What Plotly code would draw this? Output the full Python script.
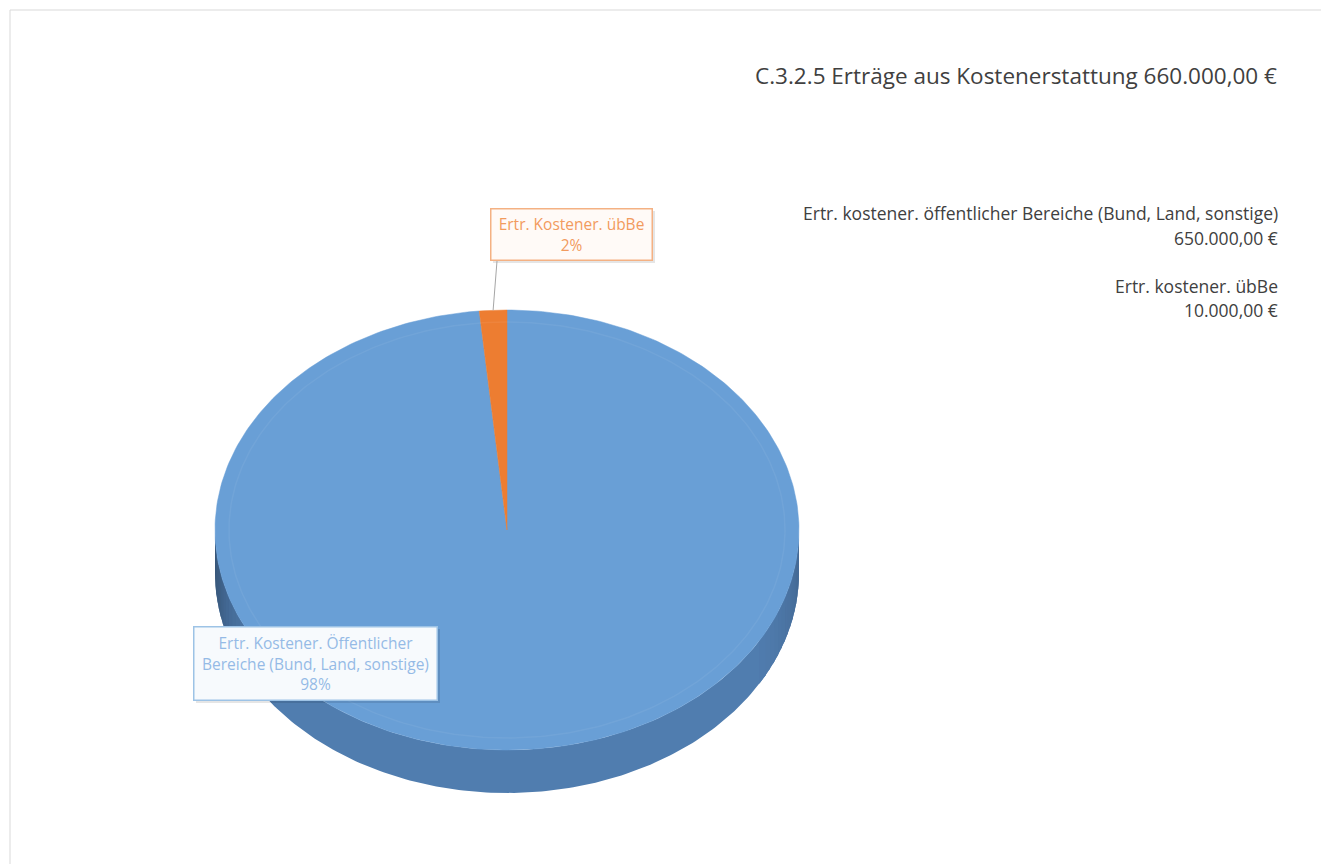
import numpy as np
import plotly.graph_objects as go

# ---------------- data ----------------
title_text = "C.3.2.5 Erträge aus Kostenerstattung"
categories = ["Ertr. kostener. öffentlicher Bereiche (Bund, Land, sonstige)",
              "Ertr. kostener. übBe"]
label_names = ["Ertr. Kostener. Öffentlicher<br>Bereiche (Bund, Land, sonstige)",
               "Ertr. Kostener. übBe"]
values = [650000, 10000]
top_colors = ["#699fd6", "#ed7d31"]
side_colors = ["#5888bf", "#c4621f"]
label_text_colors = ["#95bae6", "#f29b5e"]
label_border_colors = ["#9dc3e6", "#f4b183"]
label_bg_colors = ["#f7fafd", "#fffaf7"]


def eur(v):
    s = f"{v:,.2f}"
    s = s.replace(",", "X").replace(".", ",").replace("X", ".")
    return s + " €"


total = sum(values)
fracs = np.array(values, dtype=float) / total
pcts = [f"{round(f * 100)}%" for f in fracs]

# ---------------- geometry (layout) ----------------
W, H = 1329, 864
OFF = 8  # page body margin
cx, cy, rx, ry, depth = 507, 530, 292, 220, 43


def ell(theta_deg, dy=0.0, srx=rx, sry=ry):
    t = np.radians(theta_deg)
    return cx + srx * np.sin(t), cy - sry * np.cos(t) + dy


def shade(hexcol, f):
    h = hexcol.lstrip("#")
    r, g, b = (int(h[i:i + 2], 16) for i in (0, 2, 4))
    return f"rgb({int(r * f)},{int(g * f)},{int(b * f)})"


fig = go.Figure()

# slice angles (clockwise from 12 o'clock)
bounds = np.concatenate([[0.0], np.cumsum(fracs) * 360.0])

# side walls (front half: 90..270 deg)
for i in range(len(values)):
    a0, a1 = max(bounds[i], 90.0), min(bounds[i + 1], 270.0)
    if a1 <= a0:
        continue
    ts = np.linspace(a0, a1, 200)
    xt, yt = ell(ts)
    xb, yb = ell(ts[::-1], depth)
    fig.add_trace(go.Scatter(
        x=np.concatenate([xt, xb, xt[:1]]), y=np.concatenate([yt, yb, yt[:1]]),
        mode="lines", fill="toself", fillcolor=shade(side_colors[i], 0.92),
        line=dict(width=0), hoverinfo="skip", showlegend=False))
    edges = np.linspace(a0, a1, int((a1 - a0) / 2) + 2)
    for s0, s1 in zip(edges[:-1], edges[1:]):
        m = 0.5 * (s0 + s1)
        f = 0.92 - 0.38 * np.clip((m - 225) / 45, 0, 1) ** 2 - 0.18 * np.clip((125 - m) / 35, 0, 1) ** 1.5
        if abs(f - 0.92) < 0.01:
            continue
        tseg = np.linspace(s0, s1 + 0.6, 4)
        xt, yt = ell(tseg)
        xb, yb = ell(tseg[::-1], depth)
        fig.add_trace(go.Scatter(
            x=np.concatenate([xt, xb, xt[:1]]), y=np.concatenate([yt, yb, yt[:1]]),
            mode="lines", fill="toself", fillcolor=shade(side_colors[i], f),
            line=dict(width=0), hoverinfo="skip", showlegend=False))

# top faces
for i in range(len(values)):
    ts = np.linspace(bounds[i], bounds[i + 1], max(4, int(bounds[i + 1] - bounds[i]) + 2))
    xs, ys = ell(ts)
    fig.add_trace(go.Scatter(
        x=np.concatenate([[cx], xs, [cx]]), y=np.concatenate([[cy], ys, [cy]]),
        mode="lines", fill="toself", fillcolor=top_colors[i],
        line=dict(width=0.5, color=top_colors[i]),
        name=categories[i], hovertext=f"{categories[i]}: {eur(values[i])} ({pcts[i]})",
        hoverinfo="text", showlegend=False))

# subtle bevel ring on the top face
tt = np.linspace(0, 360, 361)
bx, by = ell(tt, 0, rx - 14, ry - 12)
fig.add_trace(go.Scatter(x=bx, y=by, mode="lines",
                         line=dict(width=1.5, color="rgba(255,255,255,0.06)"),
                         hoverinfo="skip", showlegend=False))

# ---------------- texts ----------------
font_family = "'Open Sans', sans-serif"
annotations = [
    dict(x=1279, y=75, text=f"{title_text} {eur(total)}", xanchor="right", yanchor="middle",
         showarrow=False, font=dict(size=22.5, color="#404040", family=font_family)),
]
legend_y = [(213, 238), (286, 310)]
for i in range(len(values)):
    annotations.append(dict(x=1280, y=legend_y[i][0], text=categories[i], xanchor="right",
                            yanchor="middle", showarrow=False,
                            font=dict(size=17.5, color="#404040", family=font_family)))
    annotations.append(dict(x=1280, y=legend_y[i][1], text=eur(values[i]), xanchor="right",
                            yanchor="middle", showarrow=False,
                            font=dict(size=17.5, color="#404040", family=font_family)))

# data labels
label_pos = [(315, 663, 234, 64), (571, 234, 152, 42)]
shapes = []
for i in range(len(values)):
    lx, ly, lw, lh = label_pos[i]
    hw, hh = lw / 2 + 5, lh / 2 + 5
    shapes.append(dict(type="rect", xref="x", yref="y", x0=lx - hw + 3, x1=lx + hw + 3,
                       y0=ly - hh + 3, y1=ly + hh + 3, line=dict(width=0),
                       fillcolor="rgba(0,0,0,0.10)", layer="above"))
    annotations.append(dict(x=lx, y=ly, text=f"{label_names[i]}<br>{pcts[i]}",
                            xanchor="center", yanchor="middle", showarrow=False,
                            width=lw, height=lh, borderpad=4, borderwidth=1.5,
                            bordercolor=label_border_colors[i], bgcolor=label_bg_colors[i],
                            font=dict(size=15.5, color=label_text_colors[i], family=font_family)))

# leader line for the small slice
mid = 0.5 * (bounds[1] + bounds[2])
mx, my = ell(mid)
shapes += [
    dict(type="line", xref="x", yref="y", x0=497, y0=261, x1=float(mx), y1=float(my),
         line=dict(color="#a6a6a6", width=1)),
    dict(type="rect", xref="x", yref="y", x0=10, y0=10, x1=1340, y1=875,
         line=dict(color="#d9d9d9", width=1), fillcolor="rgba(0,0,0,0)", layer="below"),
]

fig.update_layout(
    width=W - OFF, height=H - OFF, margin=dict(l=0, r=0, t=0, b=0),
    paper_bgcolor="white", plot_bgcolor="white",
    xaxis=dict(range=[OFF, W], visible=False, fixedrange=True),
    yaxis=dict(range=[H, OFF], visible=False, fixedrange=True),
    annotations=annotations, shapes=shapes, showlegend=False,
)

fig.write_html("out.html")
